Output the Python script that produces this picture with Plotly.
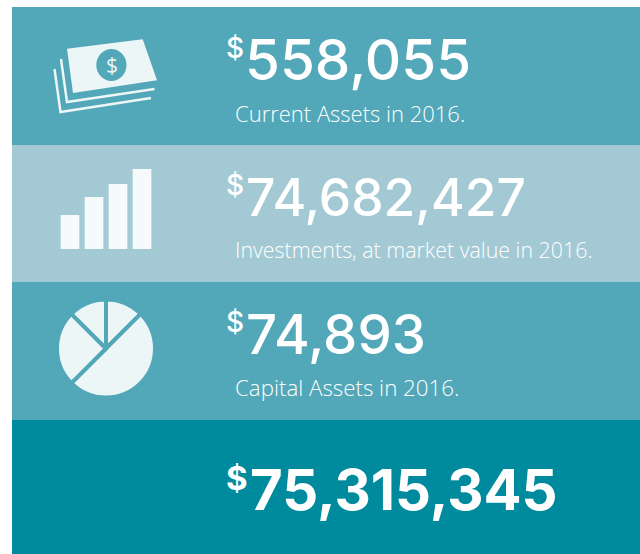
import plotly.graph_objects as go

W, H = 640, 554
amounts = ["558,055", "74,682,427", "74,893", "75,315,345"]
captions = ["Current Assets in 2016.", "Investments, at market value in 2016.", "Capital Assets in 2016.", ""]
band_edges = [7, 145, 282, 420, 554]
band_colors = ["#52A7B9", "#A3C9D4", "#52A7B9", "#008A9D"]
bar_icon_values = [34, 52, 65, 80]
pie_icon_values = [45, 180, 90, 45]
ICON = "#EDF6F7"

def X(p): return p / W
def Y(p): return 1 - p / H

shapes = []
for i, c in enumerate(band_colors):
    shapes.append(dict(type="rect", xref="paper", yref="paper", x0=X(12), x1=1,
                       y0=Y(band_edges[i]), y1=Y(band_edges[i + 1]),
                       fillcolor=c, line_width=0, layer="below"))

def path(pts, close=True):
    s = "M " + " L ".join(f"{X(a):.5f},{Y(b):.5f}" for a, b in pts)
    return s + (" Z" if close else "")

shapes.append(dict(type="path", xref="paper", yref="paper", fillcolor=ICON, line_width=0,
                   path=path([(67, 48.7), (142.7, 39.3), (157, 80.3), (73, 93)])))
for pts in ([(61, 59), (67, 102), (154.5, 89)], [(54.5, 69), (60.5, 112), (151, 98)]):
    shapes.append(dict(type="path", xref="paper", yref="paper", line=dict(color=ICON, width=2.5),
                       path=path(pts, False)))
shapes.append(dict(type="circle", xref="paper", yref="paper", x0=X(96.3), x1=X(126.5),
                   y0=Y(49), y1=Y(81), fillcolor="#52A7B9", line_width=0))

fig = go.Figure()
fig.add_trace(go.Bar(x=[0, 1, 2, 3], y=bar_icon_values, marker=dict(color="#F6FAFB", line_width=0),
                     width=0.78, xaxis="x", yaxis="y", hoverinfo="skip"))
fig.add_trace(go.Pie(values=pie_icon_values, sort=False, direction="clockwise", rotation=0,
                     textinfo="none", hoverinfo="skip", showlegend=False,
                     marker=dict(colors=[ICON] * 4, line=dict(color="#52A7B9", width=4)),
                     domain=dict(x=[X(57), X(155)], y=[Y(397.5), Y(299.5)])))

ann = []
def text(s, x, y, size, font, color="white", weight=None):
    ann.append(dict(text=s, xref="paper", yref="paper", x=X(x), y=Y(y), xanchor="left", yanchor="middle",
                    showarrow=False, borderpad=0,
                    font=dict(size=size, family=font, color=color, weight=weight)))

amount_y = [60, 197, 334]
caption_y = [113, 250, 387]
amount_size = [56.5, 51.5, 54.5]
amount_x = [244, 245, 245]
caption_size = [22, 21.4, 22.3]
for i in range(3):
    text("$", 225, amount_y[i] - 12, 28, "Inter", weight=500)
    text(amounts[i], amount_x[i], amount_y[i], amount_size[i], "Inter", weight=500)
    text(captions[i], 234, caption_y[i], caption_size[i], "Open Sans", weight=300)
text("$", 225, 478, 33, "Inter", weight=700)
text(amounts[3], 249, 489, 56.3, "Inter", weight=700)
text("$", 104.5, 65, 21, "Open Sans", color=ICON)

fig.update_layout(
    width=W, height=H, margin=dict(l=0, r=0, t=0, b=0),
    paper_bgcolor="white", plot_bgcolor="rgba(0,0,0,0)", showlegend=False,
    shapes=shapes, annotations=ann,
    xaxis=dict(domain=[X(58), X(154)], range=[-0.5, 3.5], visible=False, fixedrange=True),
    yaxis=dict(domain=[Y(249), Y(169)], range=[0, 80], visible=False, fixedrange=True),
)
fig.write_html("out.html", config=dict(displayModeBar=False),
               post_script="document.body.style.margin='0';")
